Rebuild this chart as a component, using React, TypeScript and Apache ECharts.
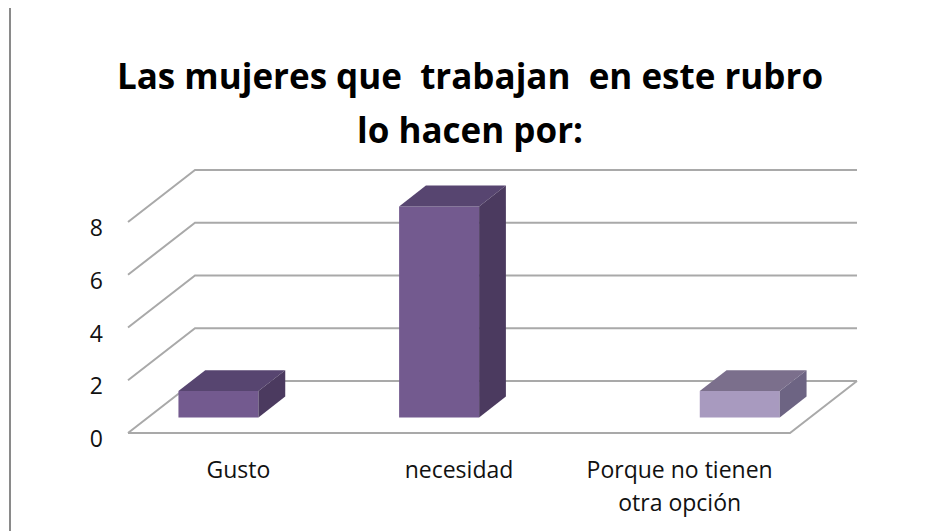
import React, { useEffect, useRef } from "react";
import * as echarts from "echarts";

const categories = ["Gusto", "necesidad", "Porque no tienen\notra opción"];
const seriesA = [1, 8, 0];
const seriesB = [0, 0, 1];
const yTicks = [0, 2, 4, 6, 8];
const titleText = "Las mujeres que  trabajan  en este rubro\nlo hacen por:";

const DX = 67;
const DY = -52;
const F0 = 0.3;
const F1 = 0.7;
const GRID_COLOR = "#a9a9a9";

const colorsA = { front: "#735a8f", top: "#574570", side: "#4b3a5f" };
const colorsB = { front: "#a89abf", top: "#7b6f8c", side: "#6d6483" };

function makeBarRender(side: number, colors: { front: string; top: string; side: string }) {
  return (params: any, api: any) => {
    const idx = api.value(0);
    const v = api.value(1);
    if (!v) return { type: "group", children: [] };
    const [c, yTop] = api.coord([idx, v]);
    const yBase = api.coord([idx, 0])[1];
    const band = api.size([1, 0])[0];
    const bw = band * 0.3625;
    const xl = side < 0 ? c - bw : c;
    const xr = xl + bw;
    const ax = DX * F0, ay = DY * F0, bx = DX * F1, by = DY * F1;
    return {
      type: "group",
      children: [
        {
          type: "rect",
          shape: { x: xl + ax, y: yTop + ay, width: bw, height: yBase - yTop },
          style: { fill: colors.front },
        },
        {
          type: "polygon",
          shape: {
            points: [
              [xl + ax, yTop + ay],
              [xr + ax, yTop + ay],
              [xr + bx, yTop + by],
              [xl + bx, yTop + by],
            ],
          },
          style: { fill: colors.top },
        },
        {
          type: "polygon",
          shape: {
            points: [
              [xr + ax, yTop + ay],
              [xr + bx, yTop + by],
              [xr + bx, yBase + by],
              [xr + ax, yBase + ay],
            ],
          },
          style: { fill: colors.side },
        },
      ],
    };
  };
}

function wallRender(params: any, api: any) {
  const v = api.value(1);
  const [c0, y] = api.coord([0, v]);
  const band = api.size([1, 0])[0];
  const left = c0 - band / 2;
  const right = left + band * categories.length;
  const children: any[] = [
    {
      type: "polyline",
      shape: {
        points: [
          [left, y],
          [left + DX, y + DY],
          [right + DX, y + DY],
        ],
      },
      style: { stroke: GRID_COLOR, lineWidth: 2, fill: null },
    },
  ];
  if (v === 0) {
    children.push({
      type: "polyline",
      shape: {
        points: [
          [left, y],
          [right, y],
          [right + DX, y + DY],
        ],
      },
      style: { stroke: GRID_COLOR, lineWidth: 2, fill: null },
    });
  }
  return { type: "group", children };
}

export default function App() {
  const ref = useRef<HTMLDivElement>(null);
  useEffect(() => {
    document.body.style.margin = "0";
    const chart = echarts.init(ref.current!, null, { renderer: "svg" });
    chart.setOption({
      animation: false,
      backgroundColor: "#ffffff",
      title: {
        text: titleText,
        left: "center",
        top: 43,
        textStyle: {
          fontFamily: "Open Sans",
          fontWeight: "bold",
          fontSize: 35,
          lineHeight: 54,
          color: "#000000",
        },
      },
      grid: { left: 128, right: 150, top: 222, bottom: 98 },
      xAxis: {
        type: "category",
        data: categories,
        axisLine: { show: false },
        axisTick: { show: false },
        axisLabel: {
          interval: 0,
          margin: 19,
          fontFamily: "Open Sans",
          fontSize: 23,
          lineHeight: 33,
          color: "#111111",
        },
      },
      yAxis: {
        type: "value",
        min: 0,
        max: 8,
        interval: 2,
        axisLine: { show: false },
        axisTick: { show: false },
        splitLine: { show: false },
        axisLabel: {
          margin: 25,
          fontFamily: "Open Sans",
          fontSize: 23,
          color: "#111111",
          verticalAlign: "top",
          lineHeight: 10,
        },
      },
      graphic: [
        {
          type: "line",
          shape: { x1: 10, y1: 8, x2: 10, y2: 531 },
          style: { stroke: "#8a8a8a", lineWidth: 2 },
        },
      ],
      series: [
        {
          type: "custom",
          renderItem: wallRender,
          data: yTicks.map((t) => [0, t]),
          encode: { x: 0, y: 1 },
          z: 1,
          silent: true,
        },
        {
          type: "custom",
          name: "A",
          renderItem: makeBarRender(-1, colorsA),
          data: seriesA.map((v, i) => [i, v]),
          encode: { x: 0, y: 1 },
          z: 2,
        },
        {
          type: "custom",
          name: "B",
          renderItem: makeBarRender(1, colorsB),
          data: seriesB.map((v, i) => [i, v]),
          encode: { x: 0, y: 1 },
          z: 2,
        },
      ],
    });
    return () => chart.dispose();
  }, []);
  return <div ref={ref} style={{ width: 940, height: 531 }} />;
}
